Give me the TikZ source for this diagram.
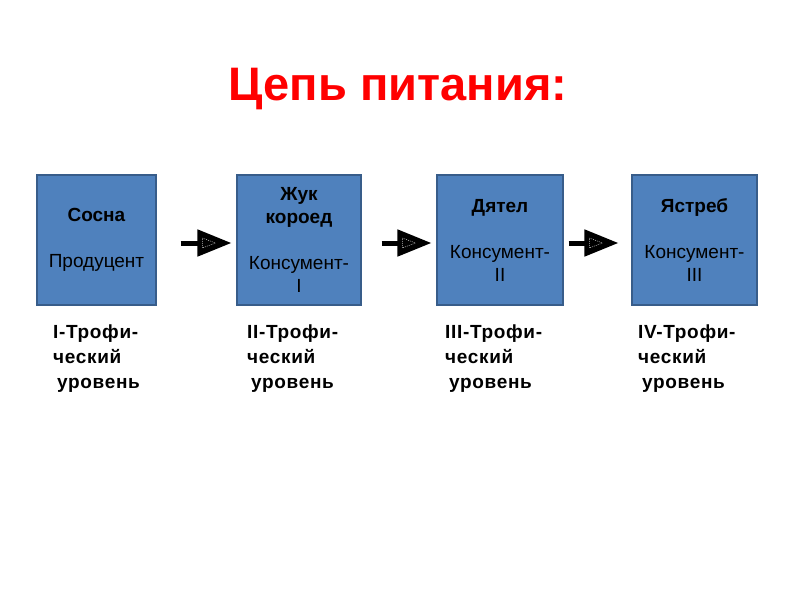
\documentclass[tikz,border=0pt]{standalone}
\usepackage{fontspec}
\setmainfont{Liberation Sans}
\usetikzlibrary{arrows.meta}
\definecolor{boxfill}{HTML}{4F81BD}
\definecolor{boxline}{HTML}{385D8A}
\tikzset{
  level/.style={draw=boxline, line width=1.2pt, fill=boxfill, minimum height=130pt,
    align=center, inner sep=0pt, font=\fontsize{19}{23}\selectfont},
  trophic/.style={anchor=north west, align=left, inner sep=0pt,
    font=\fontsize{19}{25}\selectfont\bfseries\addfontfeature{LetterSpace=3.5}},
  feed/.style={line width=5pt, -{Triangle[length=34pt,width=26pt]}},
  feedmark/.style={draw=white!75!black, line width=0.5pt, dash pattern=on 1pt off 1pt}
}

\begin{document}
\begin{tikzpicture}
    \pgfsetxvec{\pgfpoint{1pt}{0}}
    \pgfsetyvec{\pgfpoint{0}{-1pt}}
    \useasboundingbox (0,0) rectangle (800,600);

    \node[anchor=base, text=red, font=\fontsize{47}{50}\selectfont\bfseries] (title) at (398,100) {Цепь питания:};

    \foreach \n/\x/\w/\t in {b1/96.5/119/{\textbf{Сосна}\\ \\Продуцент},
                             b2/299/124/{\textbf{Жук}\\\textbf{короед}\\ \\Консумент-\\I},
                             b3/500/126/{\textbf{Дятел}\\ \\Консумент-\\II},
                             b4/694.5/125/{\textbf{Ястреб}\\ \\Консумент-\\III}} {
      \node[level, minimum width=\w pt] (\n) at (\x,240) {\t};
    }
    \foreach \n/\x/\r in {t1/53/I, t2/247/II, t3/445/III, t4/638/IV} {
      \node[trophic] (\n) at (\x,325) {\r-Трофи-\\ческий\\\hspace*{4pt}уровень};
    }
    \foreach \a/\b/\s/\e in {b1/b2/24/5, b2/b3/20/5, b3/b4/5/13} {
      \draw[feed, shorten <=\s pt, shorten >=\e pt] ([yshift=-3pt]\a.east) -- ([yshift=-3pt]\b.west);
      \coordinate (tip\a) at ([yshift=-3pt, xshift=-\e pt]\b.west);
      % dotted outline inside the head
      \draw[feedmark] ([xshift=-29pt, yshift=5pt]tip\a) -- ([xshift=-16pt]tip\a)
        -- ([xshift=-29pt, yshift=-5pt]tip\a) -- cycle;
    }
\end{tikzpicture}
\end{document}
